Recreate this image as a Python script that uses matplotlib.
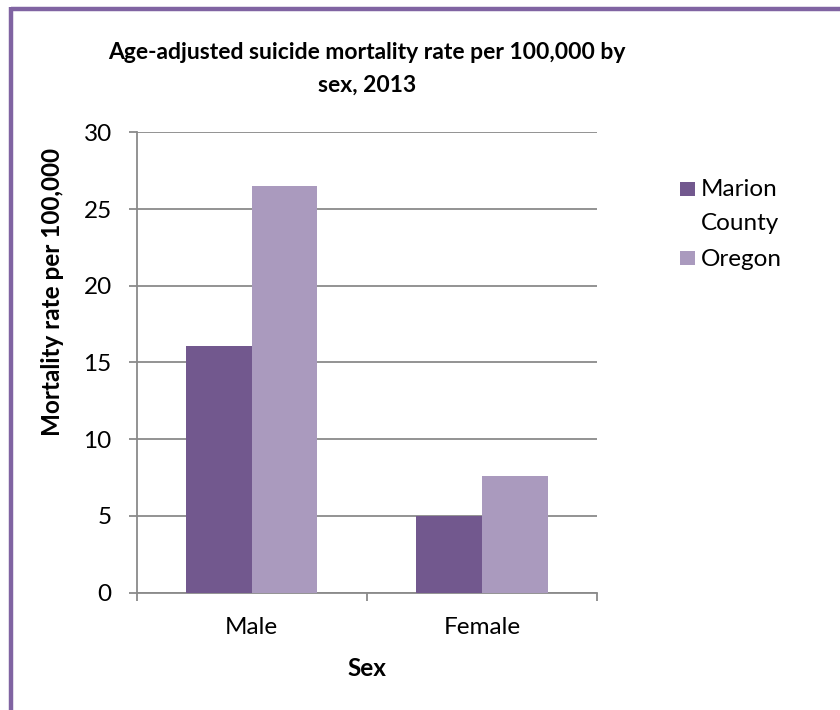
import matplotlib
matplotlib.use("Agg")
import matplotlib.pyplot as plt
from matplotlib.lines import Line2D
from matplotlib.patches import Rectangle
import numpy as np

categories = ["Male", "Female"]
series_names = ["Marion\nCounty", "Oregon"]
marion = [16.1, 5.0]
oregon = [26.5, 7.6]
yticks = [0, 5, 10, 15, 20, 25, 30]

title = "Age-adjusted suicide mortality rate per 100,000 by\nsex, 2013"
ylabel = "Mortality rate per 100,000"
xlabel = "Sex"

plt.rcParams['font.family'] = ['Lato', 'DejaVu Sans']

W, H = 840, 710
fig = plt.figure(figsize=(8.4, 7.1), dpi=100)
ax = fig.add_axes([136.7 / W, 1 - 592.5 / H, (597 - 136.7) / W, (592.5 - 132.3) / H])

x = np.arange(len(categories))
bw = 0.285
colors = ["#72588E", "#AA9ABE"]
ax.bar(x - bw / 2, marion, bw, color=colors[0], zorder=3)
ax.bar(x + bw / 2, oregon, bw, color=colors[1], zorder=3)

fs = 17.5
ax.set_xlim(-0.5, 1.5)
ax.set_ylim(0, 30)
ax.set_yticks(yticks)
ax.set_yticklabels([str(t) for t in yticks], fontsize=fs)
ax.yaxis.grid(True, color="#8a8a8a", linewidth=1.3, zorder=0)
ax.set_axisbelow(True)

ax.set_xticks([-0.5, 0.5, 1.5])
ax.set_xticklabels([])
ax.set_xticks(x, minor=True)
ax.set_xticklabels(categories, minor=True, fontsize=fs)
ax.tick_params(axis='x', which='minor', length=0, pad=18)
ax.tick_params(axis='x', which='major', length=6, color="#8a8a8a", width=1.3, direction='out')
ax.tick_params(axis='y', length=6, color="#8a8a8a", width=1.3, direction='out', pad=12)

for s in ["top", "right"]:
    ax.spines[s].set_visible(False)
for s in ["left", "bottom"]:
    ax.spines[s].set_color("#8a8a8a")
    ax.spines[s].set_linewidth(1.3)

fig.text(367 / W, 1 - 69 / H, title, ha="center", va="center", fontsize=16.5,
         fontweight="bold", linespacing=1.65)
fig.text(53 / W, 1 - 292 / H, ylabel, ha="center", va="center", rotation=90,
         fontsize=fs, fontweight="bold")
fig.text(367 / W, 1 - 668 / H, xlabel, ha="center", va="center", fontsize=fs,
         fontweight="bold")

# legend (manual, Excel-style: swatch aligned with first line)
leg_x, sw, sh = 680, 15, 14
leg_rows_y = [188.5, 257.5]
for name, col, yc in zip(series_names, colors, leg_rows_y):
    fig.add_artist(Rectangle((leg_x / W, 1 - (yc + sh / 2) / H), sw / W, sh / H,
                             transform=fig.transFigure, facecolor=col, edgecolor="none"))
    fig.text(701 / W, 1 - (yc - 9) / H, name, ha="left", va="top", fontsize=fs,
             linespacing=1.76)

# purple border (top and left visible)
bc = "#8064A2"
fig.add_artist(Line2D([10.5 / W, 1.0], [1 - 8.5 / H, 1 - 8.5 / H], transform=fig.transFigure,
                      color=bc, linewidth=3.2, solid_capstyle="butt"))
fig.add_artist(Line2D([10.5 / W, 10.5 / W], [0.0, 1 - 7 / H], transform=fig.transFigure,
                      color=bc, linewidth=3.2, solid_capstyle="butt"))

fig.savefig("out.png", dpi=100)
